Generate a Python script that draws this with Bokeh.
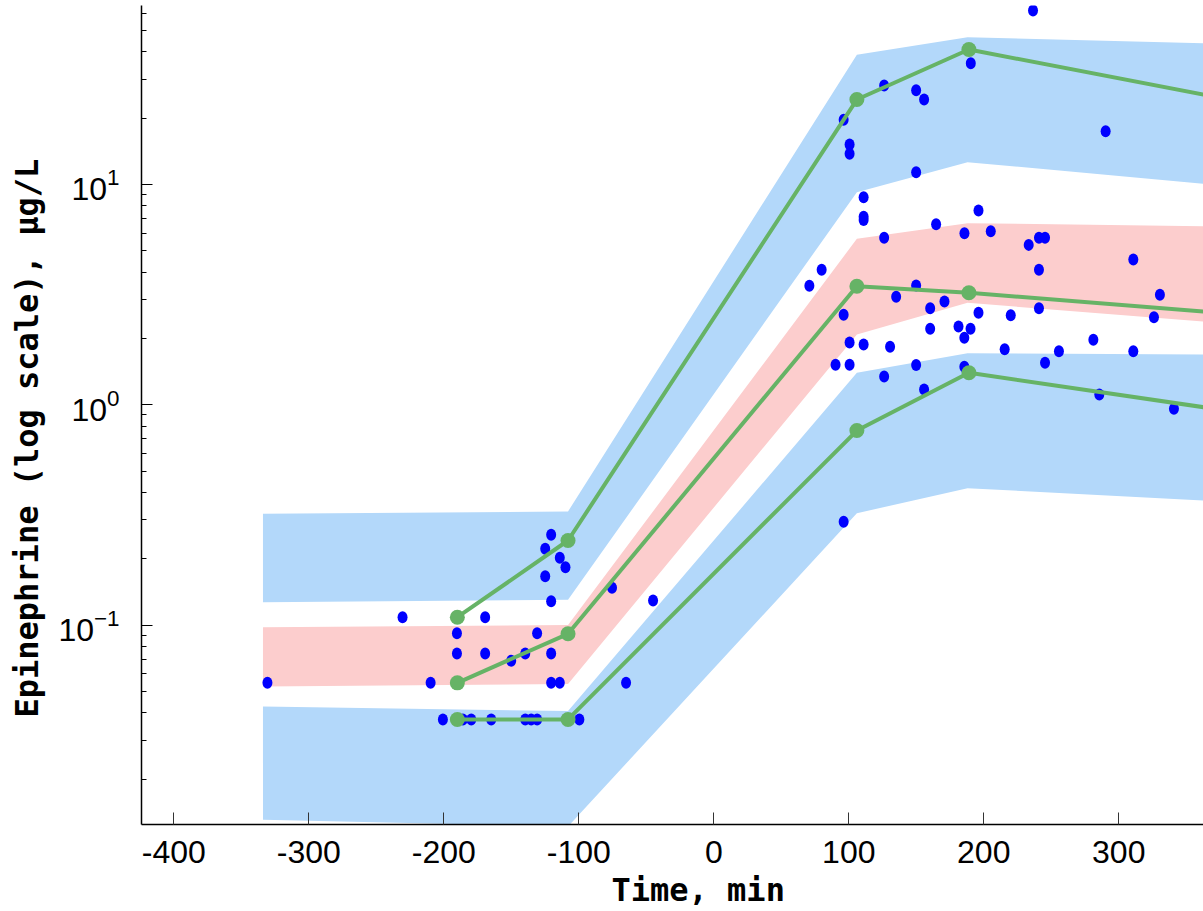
from bokeh.plotting import figure
from bokeh.models import FixedTicker, Range1d, Title, CustomJSTickFormatter
from bokeh.embed import file_html
from bokeh.resources import INLINE

# ---------------- data ----------------
x_ticks = [-400, -300, -200, -100, 0, 100, 200, 300]
y_ticks = [0.1, 1, 10]
y_minor = [0.02, 0.03, 0.04, 0.05, 0.06, 0.07, 0.08, 0.09,
           0.2, 0.3, 0.4, 0.5, 0.6, 0.7, 0.8, 0.9,
           2, 3, 4, 5, 6, 7, 8, 9, 20, 30, 40, 50, 60]

# prediction-interval bands (simulated percentiles CI)
band_time = [-334, -108, 106, 188, 363]
p95_hi = [0.320, 0.328, 38.8, 46.6, 43.8]
p95_lo = [0.1271, 0.1302, 9.23, 12.63, 10.07]
p50_hi = [0.0978, 0.100, 5.67, 6.67, 6.47]
p50_lo = [0.0526, 0.0541, 2.085, 2.904, 2.388]
p05_hi = [0.0427, 0.0407, 1.397, 1.715, 1.692]
p05_lo = [0.01307, 0.01218, 0.322, 0.418, 0.368]

# observed percentiles
obs_time = [-190, -108, 106, 189, 363]
obs_p95 = [0.1086, 0.2421, 24.3, 41.0, 25.6]
obs_p50 = [0.0547, 0.0913, 3.455, 3.224, 2.652]
obs_p05 = [0.0373, 0.0373, 0.764, 1.397, 0.975]

# observations
obs_x = [-330.7, -230.6, -209.8, -200.7, -190.3, -190.3, -185.9, -179.7, -169.4, -169.4,
         -164.9, -150.1, -139.7, -139.7, -135.3, -130.9, -130.9, -124.9, -120.5, -124.9,
         -114.1, -109.9, -120.5, -120.5, -120.5, -114.1, -99.6, -75.4, -65.0, -45.0,
         70.8, 79.9, 96.2, 100.6, 100.6, 111.0, 111.0, 111.0, 96.2, 100.6,
         111.0, 90.2, 100.6, 96.2, 236.5, 126.2, 149.9, 155.8, 190.4, 290.3,
         149.9, 164.7, 196.1, 126.2, 185.7, 205.2, 233.3, 240.9, 245.4, 310.8,
         240.9, 149.9, 135.1, 160.3, 170.9, 196.1, 220.0, 240.9, 330.5, 326.1,
         130.6, 160.3, 181.3, 190.2, 185.6, 215.5, 255.7, 245.4, 281.2, 310.8,
         149.9, 185.6, 126.2, 155.8, 285.6, 340.9]
obs_y = [0.0547, 0.1086, 0.0547, 0.0373, 0.0919, 0.0743, 0.0373, 0.0373, 0.1086, 0.0743,
         0.0373, 0.0689, 0.0743, 0.0373, 0.0373, 0.0373, 0.0919, 0.2220, 0.2570, 0.1667,
         0.2020, 0.1832, 0.1284, 0.0743, 0.0547, 0.0547, 0.0373, 0.1477, 0.0547, 0.1293,
         3.469, 4.106, 19.69, 15.19, 13.79, 8.76, 7.14, 6.90, 2.562, 1.918,
         1.878, 1.519, 1.519, 0.2946, 61.6, 28.14, 26.80, 24.31, 35.53, 17.46,
         11.37, 6.60, 7.62, 5.73, 6.01, 6.14, 5.32, 5.73, 5.73, 4.566,
         4.106, 3.479, 3.092, 2.745, 2.944, 2.616, 2.551, 2.745, 3.161, 2.498,
         1.835, 2.213, 2.267, 2.213, 2.016, 1.788, 1.751, 1.551, 1.973, 1.751,
         1.516, 1.488, 1.344, 1.173, 1.114, 0.960]

x_title = "Time, min"
y_title = "Epinephrine (log scale), \u03bcg/L"

BLUE_BAND = "#b3d8fa"
PINK_BAND = "#fccdcd"
GREEN = "#66b366"
DOT = "#0000ff"

# ---------------- figure ----------------
p = figure(width=1203, height=911, y_axis_type="log",
           x_range=Range1d(-424.0, 362.8), y_range=Range1d(0.012442, 64.94),
           output_backend="svg", toolbar_location=None,
           min_border_left=140, min_border_right=0, min_border_top=5,
           min_border_bottom=87)
p.grid.visible = False
p.outline_line_color = None
p.background_fill_color = "white"
p.border_fill_color = "white"

p.varea(x=band_time, y1=p95_lo, y2=p95_hi, fill_color=BLUE_BAND)
p.varea(x=band_time, y1=p50_lo, y2=p50_hi, fill_color=PINK_BAND)
p.varea(x=band_time, y1=p05_lo, y2=p05_hi, fill_color=BLUE_BAND)

p.ellipse(x=obs_x, y=obs_y, width=10, height=12, width_units="screen",
          height_units="screen", fill_color=DOT, line_color=None)

for series in (obs_p95, obs_p50, obs_p05):
    p.line(obs_time, series, line_color=GREEN, line_width=4)
    p.scatter(obs_time[:4], series[:4], size=15, fill_color=GREEN, line_color=None)

# axes
ax = p.xaxis[0]
ax.ticker = FixedTicker(ticks=x_ticks)
ax.formatter = CustomJSTickFormatter(code="return tick.toFixed(0);")
ax.major_tick_in = 12
ax.major_tick_out = 0
ax.minor_tick_in = 0
ax.minor_tick_out = 0
ax.major_label_standoff = 16
ax.major_label_text_font = "Liberation Sans"
ax.major_label_text_font_size = "32px"
ax.major_label_text_color = "black"
ax.axis_line_color = "black"
ax.axis_line_width = 1.5
ax.major_tick_line_color = "#333333"

ay = p.yaxis[0]
ay.ticker = FixedTicker(ticks=y_ticks, minor_ticks=y_minor)
ay.major_tick_in = 11
ay.major_tick_out = 0
ay.minor_tick_in = 5
ay.minor_tick_out = 0
ay.major_label_standoff = 22
ay.major_label_text_font = "Liberation Sans"
ay.major_label_text_font_size = "32px"
ay.major_label_text_color = "black"
ay.axis_line_color = "black"
ay.axis_line_width = 1.5
ay.major_tick_line_color = "black"
ay.minor_tick_line_color = "black"

# axis titles
p.add_layout(Title(text=x_title, align="left", offset=470, standoff=6,
                   vertical_align="bottom",
                   text_font="DejaVu Sans Mono", text_font_style="bold",
                   text_font_size="32px", text_color="black"), "below")
p.add_layout(Title(text=y_title, align="left", offset=107, standoff=15,
                   vertical_align="top",
                   text_font="DejaVu Sans Mono", text_font_style="bold",
                   text_font_size="32px", text_color="black"), "left")

open("out.html", "w").write(file_html(p, INLINE))
